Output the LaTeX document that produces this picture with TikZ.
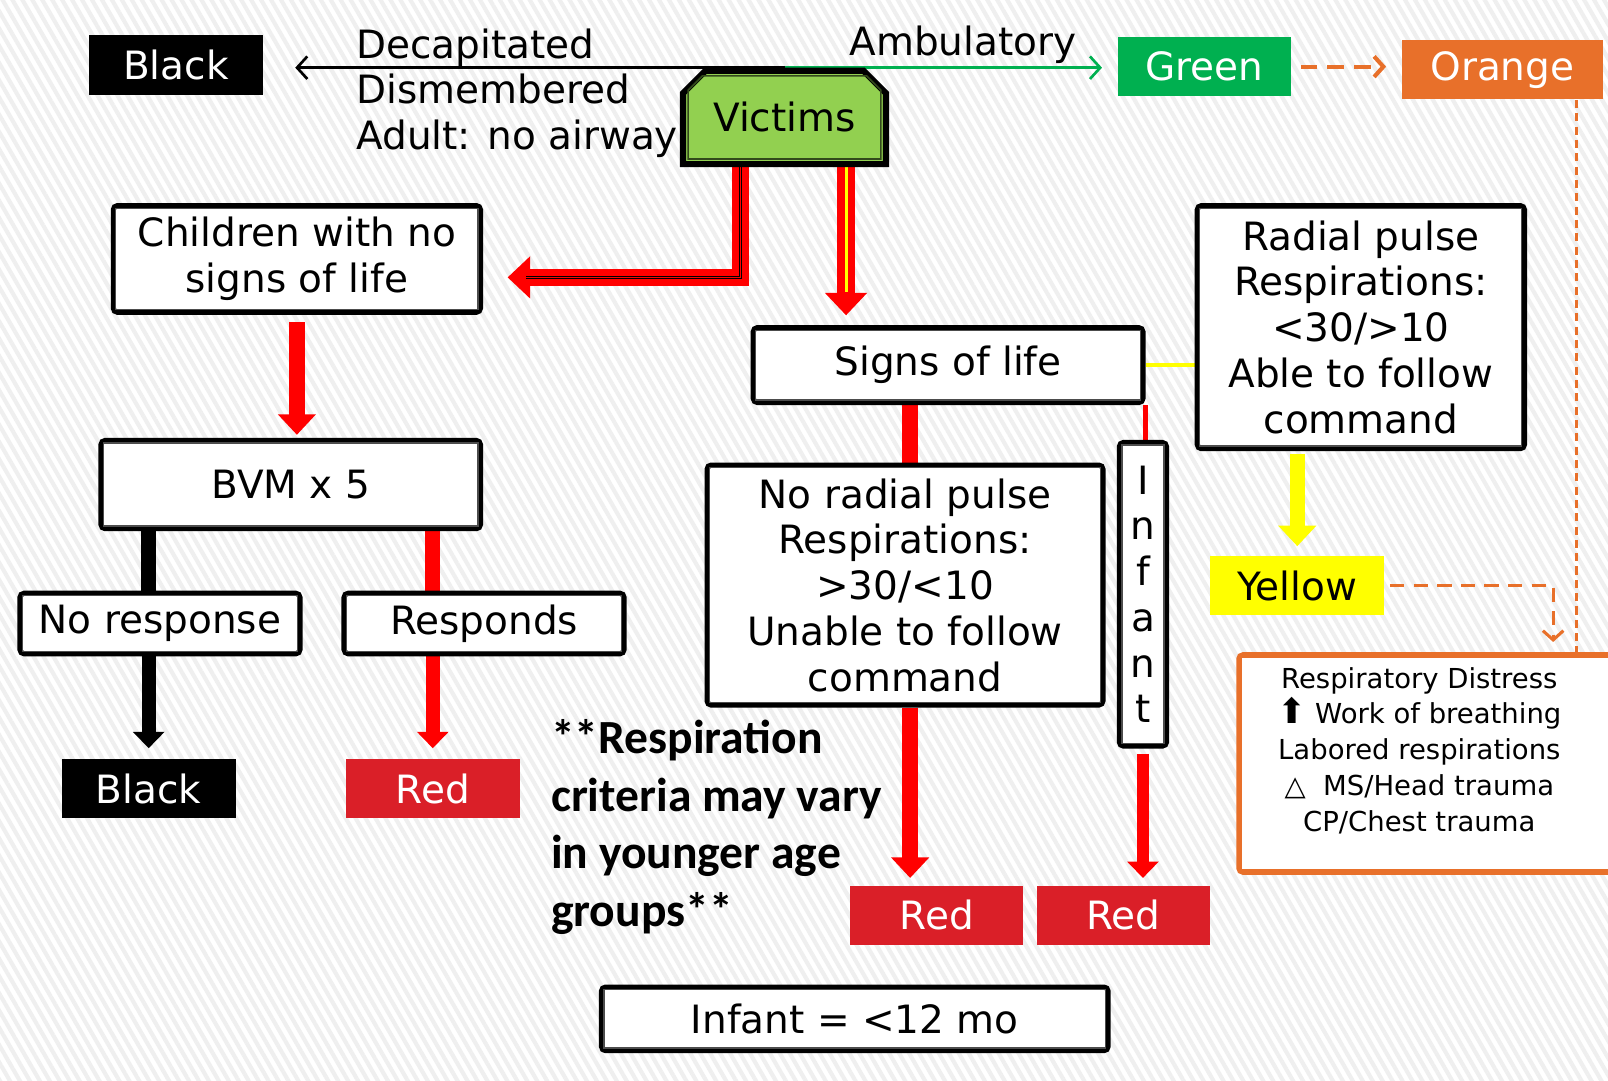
\documentclass[tikz,border=0pt]{standalone}
\usepackage{fontspec}
\setmainfont{DejaVu Sans}
\newfontfamily\notefont{Carlito}
\usetikzlibrary{arrows.meta,positioning,calc,shapes.misc,patterns.meta}
\definecolor{tgreen}{HTML}{00B050}
\definecolor{tlime}{HTML}{92D050}
\definecolor{torange}{HTML}{E8702A}
\definecolor{tred}{HTML}{DA1F28}
\definecolor{tyellow}{HTML}{FFFF00}
\definecolor{tstripe}{HTML}{EFEFEF}
\newcommand{\mainsize}{\fontsize{19}{22.3}\selectfont}
\pgfdeclarelayer{bg}
\pgfdeclarelayer{wires}
\pgfsetlayers{bg,wires,main}
\tikzset{
  tag/.style    = {inner sep=0pt, minimum width=85pt, minimum height=29pt,
                   text=white, font=\mainsize},
  dbox/.style   = {draw, line width=2.5pt, fill=white, rounded corners=2pt,
                   inner sep=0pt, align=center, font=\mainsize},
  inset/.style  = {draw=black!70, line width=0.6pt},
  victim/.style = {chamfered rectangle, chamfered rectangle corners={north west,north east},
                   chamfered rectangle xsep=9pt, draw, line width=3pt, fill=tlime,
                   inner sep=0pt, minimum width=99pt, minimum height=45.5pt, font=\mainsize},
  barb/.style   = {line width=1.3pt, -{Straight Barb[length=5pt,width=11pt]}},
  stem/.style   = {line width=7.5pt},
  flow/.style   = {line width=7.5pt, -{Triangle[width=18pt,length=10pt]}},
  flowsm/.style = {line width=7pt, -{Triangle[width=15pt,length=8pt]}},
  fatred/.style = {red, line width=8.5pt, -{Triangle[width=20pt,length=11pt]}},
  odash/.style  = {torange, line width=2pt, dash pattern=on 8pt off 5pt},
}
\begin{document}
\begin{tikzpicture}[x=0.5pt,y=-0.5pt]
\useasboundingbox (0,0) rectangle (1568,1054);
\begin{pgfonlayer}{bg}
\fill[white] (0,0) rectangle (1568,1054);
\fill[pattern={Lines[angle=-60,distance=4.2pt,line width=2pt]}, pattern color=tstripe]
  (0,0) rectangle (1568,1054);
\end{pgfonlayer}

% colour tags
\node[tag, fill=black] (blacktop) at (171.5,63.5) {Black};
\node[tag, fill=tgreen, minimum width=84.5pt] (green) at (1174.5,65) {Green};
\node[tag, fill=torange, minimum width=98pt] (orange) at (1465,68) {Orange};
\node[tag, fill=tyellow, text=black] (yellow) at (1265,571) {Yellow};
\node[tag, fill=black] (blackbot) at (145,769) {Black};
\node[tag, fill=tred] (redl) at (422,769) {Red};
\node[tag, fill=tred, minimum width=84.5pt] (redm) at (913.5,892.5) {Red};
\node[tag, fill=tred, minimum width=84.5pt] (redr) at (1095.5,892.5) {Red};

\node[victim] (victims) at (765,114.5) {Victims};

% decision boxes
\node[dbox, minimum width=179pt, minimum height=52pt] (kids) at (289.5,252.5) {Children with no\\signs of life};
\node[dbox, minimum width=185pt, minimum height=43pt] (bvm) at (283.5,472.5) {BVM x 5};
\node[dbox, minimum width=136.5pt, minimum height=29.5pt] (noresp) at (156,608) {No response};
\node[dbox, minimum width=136.5pt, minimum height=29.5pt] (responds) at (472,608) {Responds};
\node[dbox, minimum width=190pt, minimum height=36.5pt] (signs) at (924.5,356) {Signs of life};
\node[dbox, minimum width=159.5pt, minimum height=118.5pt] (radial) at (1327,319)
  {Radial pulse\\Respirations:\\<30/>10\\Able to follow\\command};
\node[dbox, minimum width=193pt, minimum height=117pt] (noradial) at (882.5,570.5)
  {No radial pulse\\Respirations:\\>30/<10\\Unable to follow\\command};
\node[dbox, minimum width=23pt, minimum height=148pt] (infantv) at (1114.5,579.5) {I\\n\\f\\a\\n\\t};
\node[dbox, minimum width=247pt, minimum height=31pt] (infantage) at (833.5,993.5) {Infant = <12 mo};
\foreach \b in {kids,bvm,noresp,responds,signs,radial,noradial,infantv,infantage}
  \draw[inset] ($(\b.north west)+(5,5)$) rectangle ($(\b.south east)+(-5,-5)$);

% respiratory distress box
\node[draw=torange, line width=2.5pt, fill=white, rounded corners=2pt, inner sep=0pt,
  minimum width=186pt, minimum height=106pt] (rd) at (1394,744.5) {};
\draw[torange, line width=0.6pt] ($(rd.north west)+(5,5)$) rectangle ($(rd.south east)+(-5,-5)$);
\node[align=center, inner sep=0pt, font=\fontsize{13.4}{17.5}\selectfont] (rdtext) at (1384,732)
  {Respiratory Distress\\{\fontsize{17}{17}\selectfont ⬆} Work of breathing\\Labored respirations\\△\ \ MS/Head trauma\\CP/Chest trauma};

% victims inner rim
\path (victims.west |- victims.south) ++(8,-8) coordinate (vsw);
\path (victims.east |- victims.north) ++(-8,8) coordinate (vne);
\draw[tlime!35!black, line width=0.8pt] (vsw) -- ($(vsw |- vne)+(0,14)$) -- ($(vsw |- vne)+(14,0)$)
  -- ($(vne)+(-14,0)$) -- ($(vne)+(0,14)$) -- (vne |- vsw) -- cycle;

% free texts (base = last line)
\node[anchor=base west, align=left, inner sep=0pt, font=\mainsize] (causes) at (347,146)
  {Decapitated\\Dismembered\\Adult: no airway};
\node[anchor=base west, inner sep=0pt, font=\mainsize] (ambul) at (828,54) {Ambulatory};
\node[anchor=base west, align=left, inner sep=0pt,
  font=\notefont\bfseries\fontsize{23.2}{28}\selectfont] (note) at (537,903)
  {**Respiration\\criteria may vary\\in younger age\\groups**};

\begin{pgfonlayer}{wires}
\draw[barb, shorten >=15.5pt] (victims.north) -- (victims.north -| blacktop.east);
\draw[barb, tgreen, shorten >=7.5pt] (victims.north) -- (victims.north -| green.west);
\draw[odash, -{Straight Barb[length=4.5pt,width=10pt]}, shorten <=4.5pt, shorten >=7.5pt]
  (green.east) -- (green.east -| orange.west);
\coordinate (odrop) at ($(orange.south east)+(-26,0)$);
\draw[torange, line width=1.3pt, dash pattern=on 4pt off 2.5pt] (odrop) -- (odrop |- rd.north);
\coordinate (rdin) at ($(rd.north east)+(-68,0)$);
\draw[torange, line width=1.5pt, dash pattern=on 7pt off 4.5pt,
  -{Straight Barb[length=4.5pt,width=10pt]}, shorten <=2.5pt, shorten >=5pt] (yellow.east) -| (rdin);
% victims to children, victims to signs of life
\coordinate (lstart) at ($(victims.south)+(-43,0)$);
\coordinate (lend) at ($(kids.east)+(0,18)$);
\draw[fatred, shorten >=12pt] (lstart) |- (lend);
\draw[black, line width=1.8pt, shorten >=21pt] (lstart) |- (lend);
\draw[red, line width=0.6pt, shorten >=21pt] (lstart) |- (lend);
\coordinate (dstart) at ($(victims.south)+(60,0)$);
\draw[fatred, shorten >=4.75pt] (dstart) -- (dstart |- signs.north);
\draw[tyellow, line width=1.5pt, shorten >=16pt] (dstart) -- (dstart |- signs.north);
% children branch
\draw[flow, red, shorten <=3.5pt, shorten >=1.5pt] (kids.south) -- (kids.south |- bvm.north);
\draw[stem] (blackbot.north |- bvm.south) -- (blackbot.north |- noresp.north);
\draw[flowsm, shorten >=5pt] (blackbot.north |- noresp.south) -- (blackbot.north);
\draw[stem, red] (redl.north |- bvm.south) -- (redl.north |- responds.north);
\draw[flowsm, red, shorten >=5pt] (redl.north |- responds.south) -- (redl.north);
% signs of life branch
\coordinate (pr) at ($(noradial.north)+(5,0)$);
\draw[stem, red] (pr |- signs.south) -- (pr);
\draw[flow, red, shorten >=3.5pt] (pr |- noradial.south) -- (pr |- redm.north);
\draw[red, line width=2pt] (signs.south east) -- (signs.south east |- infantv.north);
\draw[flowsm, red, line width=6pt, shorten <=2.5pt, shorten >=3.5pt] (infantv.south) -- (infantv.south |- redr.north);
\draw[tyellow, line width=2pt] (signs.east) -- (signs.east -| radial.west);
\draw[flow, tyellow, shorten <=1.5pt, shorten >=4.5pt] (yellow.north |- radial.south) -- (yellow.north);
\end{pgfonlayer}
\end{tikzpicture}
\end{document}
